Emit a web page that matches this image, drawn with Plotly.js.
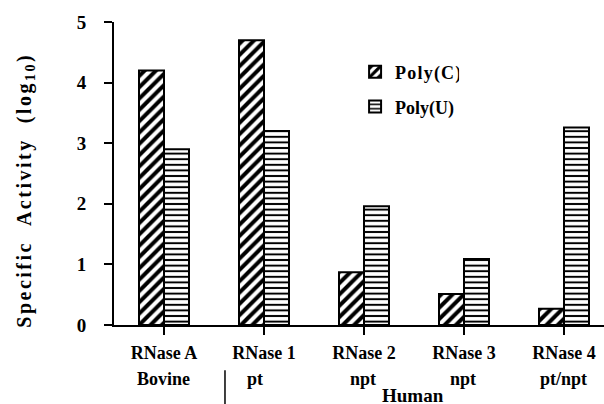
<!DOCTYPE html>
<html>
<head>
<meta charset="utf-8">
<script src="https://cdn.plot.ly/plotly-3.0.1.min.js"></script>
<style>
html,body{margin:0;padding:0;background:#fff;}
#chart{width:604px;height:404px;}
</style>
</head>
<body>
<div id="chart"></div>
<script>
const categories = ["RNase A", "RNase 1", "RNase 2", "RNase 3", "RNase 4"];
const subLabels = ["Bovine", "pt", "npt", "npt", "pt/npt"];
const polyC = [4.2, 4.7, 0.87, 0.51, 0.27];
const polyU = [2.9, 3.2, 1.96, 1.09, 3.26];
const seriesNames = ["Poly(C)", "Poly(U)"];
const yTicks = [0, 1, 2, 3, 4, 5];
const groupLabel = "Human";

const FONT = "Liberation Serif";
const idx = categories.map((_, i) => i);

const traces = [
  {
    type: "bar", x: idx, y: polyC, name: seriesNames[0], legend: "legend",
    marker: {color: "#fff", line: {color: "#000", width: 2},
      pattern: {shape: "/", size: 8, solidity: 0.5, fgcolor: "#000", bgcolor: "#fff"}}
  },
  {
    type: "bar", x: idx, y: polyU, name: seriesNames[1], legend: "legend2",
    marker: {color: "#fff", line: {color: "#000", width: 2},
      pattern: {shape: "-", size: 5.6, solidity: 0.35, fgcolor: "#000", bgcolor: "#fff"}}
  }
];

const annotations = subLabels.map((t, i) => ({
  xref: "x", yref: "paper", x: i, y: -0.178, yanchor: "middle", xanchor: "center",
  xshift: i === 1 ? -9 : -1,
  text: "<b>" + t + "</b>", showarrow: false,
  font: {family: FONT, size: 18, color: "#000"}
}));
annotations.push({
  xref: "paper", yref: "paper", x: 0.61, y: -0.19, yanchor: "top", xanchor: "center",
  text: "<b>" + groupLabel + "</b>", showarrow: false,
  font: {family: FONT, size: 19, color: "#000"}
});
annotations.push({
  xref: "paper", yref: "paper", x: -0.182, y: 0.445, xanchor: "center", yanchor: "middle",
  textangle: -90, showarrow: false,
  text: "<b>Specific\u00a0\u00a0Activity\u00a0\u00a0(log<sub>10</sub>)</b>",
  font: {family: FONT, size: 20, color: "#000"}
});

const layout = {
  width: 604, height: 404,
  margin: {l: 114, r: 0, t: 22, b: 79},
  paper_bgcolor: "#fff", plot_bgcolor: "#fff",
  font: {family: FONT, color: "#000"},
  barmode: "group", bargap: 0.5, bargroupgap: 0,
  showlegend: true,
  legend: {x: 0.492, y: 0.835, xanchor: "left", yanchor: "middle",
    font: {family: FONT, size: 18, color: "#000", weight: "bold"}, bgcolor: "rgba(0,0,0,0)"},
  legend2: {x: 0.492, y: 0.72, xanchor: "left", yanchor: "middle",
    font: {family: FONT, size: 18, color: "#000", weight: "bold"}, bgcolor: "rgba(0,0,0,0)"},
  xaxis: {
    range: [-0.5, 4.4], tickmode: "array", tickvals: idx,
    ticktext: categories.map(c => "<b>" + c + "</b>"),
    ticks: "outside", ticklen: 8, tickwidth: 2, tickcolor: "#000",
    showline: true, linecolor: "#000", linewidth: 2, showgrid: false, zeroline: false,
    tickfont: {family: FONT, size: 18, color: "#000"}, ticklabelstandoff: 2
  },
  yaxis: {
    range: [0, 5], tickmode: "array", tickvals: yTicks,
    ticktext: yTicks.map(v => "<b>" + v + "</b>"),
    ticks: "outside", ticklen: 8, tickwidth: 2, tickcolor: "#000",
    showline: true, linecolor: "#000", linewidth: 2, showgrid: false, zeroline: false,
    tickfont: {family: FONT, size: 19, color: "#000"}, ticklabelstandoff: 14
  },
  shapes: [
    {type: "line", xref: "paper", yref: "paper", x0: 0.2265, x1: 0.2265, y0: -0.149, y1: -0.27,
     line: {color: "#000", width: 1.5}}
  ],
  annotations: annotations
};

Plotly.newPlot("chart", traces, layout, {displayModeBar: false, staticPlot: true}).then(() => {
  document.querySelectorAll(".annotation-text").forEach(el => {
    if (el.textContent.indexOf("Specific") >= 0) el.style.letterSpacing = "2.5px";
  });
  document.querySelectorAll(".legendtext").forEach(el => { el.style.letterSpacing = "1.2px"; });
});
</script>
</body>
</html>
